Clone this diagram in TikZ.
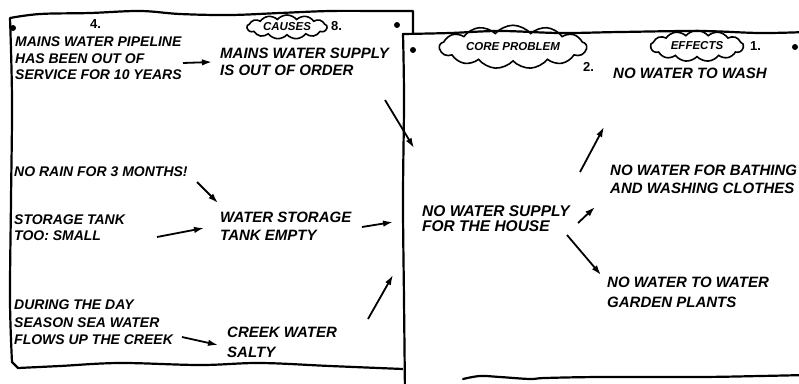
\documentclass[tikz,border=0pt]{standalone}
\usepackage{fontspec}
\setmainfont{Liberation Sans}
\usetikzlibrary{shapes.symbols,arrows.meta,calc}
\begin{document}
\begin{tikzpicture}[x=1pt,y=-1pt,
  sheet/.style={line width=2.2pt, line join=round, line cap=round},
  txt/.style={anchor=north west, inner sep=0pt, align=left,
    font=\fontsize{15}{#1}\selectfont\bfseries\itshape},
  txt/.default=16,
  small14/.style={font=\fontsize{14}{#1}\selectfont\bfseries\itshape},
  num/.style={anchor=north west, inner sep=0pt, font=\fontsize{13}{14}\selectfont\bfseries},
  cloudbox/.style={cloud, draw, line width=1.6pt, cloud puffs=13, cloud puff arc=100,
    inner sep=0pt, font=\fontsize{11.5}{12}\selectfont\bfseries\itshape},
  arr/.style={line width=1.8pt, -{Latex[length=10pt,width=6.5pt]}},
  dot/.style={fill=black}
]
\clip (0,0) rectangle (799,383);
\useasboundingbox (0,0) rectangle (799,383);

% left sheet (causes)
\draw[sheet, fill=white] plot[smooth, tension=0.6] coordinates {(10,18) (40,14) (90,13) (140,11) (180,14) (230,15) (280,13) (330,11) (380,11) (413,11)}
  -- (413,372)
  -- plot[smooth, tension=0.6] coordinates {(403,369) (330,366) (260,363) (200,365) (120,363) (60,366) (18,368)}
  -- plot[smooth, tension=0.6] coordinates {(12,362) (10,300) (11,200) (12,100) (10,18)} -- cycle;

% right sheet (core problem / effects): white paper, then its visible edges
\fill[white] (403,34) -- (806,32) -- (806,400) -- (403,400) -- cycle;
\draw[sheet] plot[smooth, tension=0.6] coordinates {(405,395) (404,300) (403,200) (404,100) (403,34)}
  -- plot[smooth, tension=0.6] coordinates {(403,34) (450,33) (500,31) (560,33) (620,32) (700,31) (760,33) (806,32)};
\draw[sheet] plot[smooth, tension=0.6] coordinates {(806,375) (760,376) (700,377) (600,377) (545,378) (530,379) (500,377) (480,376) (463,379)};

% dots
\fill[dot] (13,28) circle[radius=3];
\fill[dot] (397,25) circle[radius=3];
\fill[dot] (413,50) circle[radius=3];
\fill[dot] (795,47) circle[radius=3];

% causes
\node[cloudbox, aspect=4, minimum width=80, minimum height=22] (causes) at (287,27) {CAUSES};
\node[num] (n8) at (331,21) {8.};
\node[num] (n4) at (90,19) {4.};
\node[txt, small14=16.5] (pipeline) at (15,37) {MAINS WATER PIPELINE\\HAS BEEN OUT OF\\SERVICE FOR 10 YEARS};
\node[txt=17] (supply) at (220,48) {MAINS WATER SUPPLY\\IS OUT OF ORDER};
\node[txt, small14=16] (rain) at (14,167) {NO RAIN FOR 3 MONTHS!};
\node[txt, small14=15.5] (small) at (14,215) {STORAGE TANK\\TOO: SMALL};
\node[txt=18] (tank) at (220,212) {WATER STORAGE\\TANK EMPTY};
\node[txt, small14=17.5] (during) at (14,300) {DURING THE DAY\\SEASON SEA WATER\\FLOWS UP THE CREEK};
\node[txt=20] (creek) at (227,327) {CREEK WATER\\SALTY};

% core problem and effects
\node[cloudbox, aspect=4.5, minimum width=147, minimum height=32] (core) at (513,47) {CORE PROBLEM};
\node[num] (n2) at (583,62) {2.};
\node[cloudbox, aspect=3.2, minimum width=93, minimum height=31] (effects) at (697,46) {EFFECTS};
\node[num] (n1) at (750,41) {1.};
\node[txt, font=\fontsize{15.5}{15.5}\selectfont\bfseries\itshape] (house) at (422,205) {NO WATER SUPPLY\\FOR THE HOUSE};
\node[txt] (wash) at (613,68) {NO WATER TO WASH};
\node[txt=18] (bathing) at (610,165) {NO WATER FOR BATHING\\AND WASHING CLOTHES};
\node[txt=20] (garden) at (607,277) {NO WATER TO WATER\\GARDEN PLANTS};

% connectors
\draw[arr] ($(pipeline.north west)+(168,26)$) -- ($(supply.north west)+(-8,14)$);
\draw[arr] ($(supply.north west)+(165,52)$) -- ($(house.north west)+(-8,-57)$);
\draw[arr] ($(rain.north west)+(183,15)$) -- ($(tank.north west)+(-2,-9)$);
\draw[arr] ($(small.north west)+(143,22)$) -- ($(tank.north west)+(-16,16)$);
\draw[arr] ($(tank.north west)+(142,15)$) -- ($(house.north west)+(-29,17)$);
\draw[arr] ($(during.north west)+(168,37)$) -- ($(creek.north west)+(-9,18)$);
\draw[arr] ($(creek.north west)+(141,-8)$) -- ($(house.north west)+(-29,70)$);
\draw[arr] ($(house.north west)+(158,-33)$) -- ($(wash.north west)+(-9,59)$);
\draw[arr] ($(house.north west)+(156,18)$) -- ($(bathing.north west)+(-15,42)$);
\draw[arr] ($(house.north west)+(145,30)$) -- ($(garden.north west)+(-6,-2)$);
\end{tikzpicture}
\end{document}
